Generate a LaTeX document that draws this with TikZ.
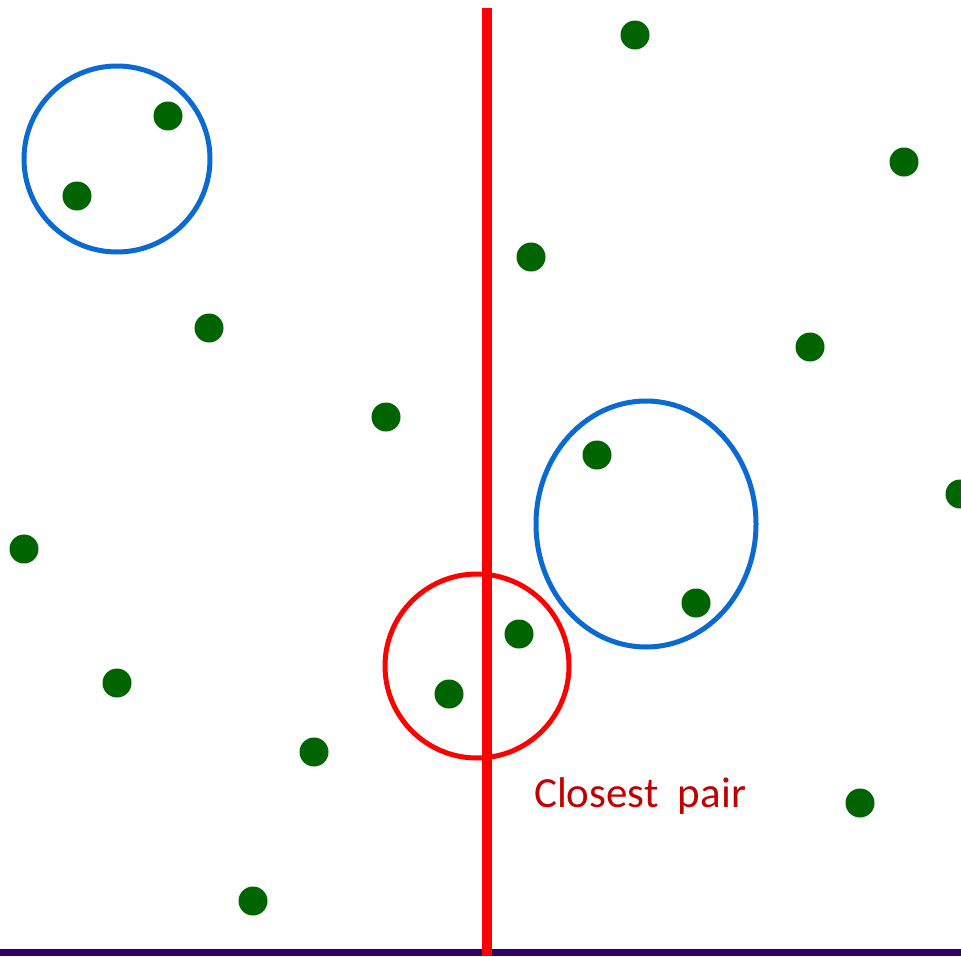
\documentclass[tikz,border=0pt]{standalone}
\usepackage{fontspec}
\setmainfont{Carlito}
\usepackage{tikz}
\usetikzlibrary{positioning}
\usepackage{xcolor}
\definecolor{dotgreen}{HTML}{006400}
\definecolor{ringblue}{HTML}{0A6AD2}
\definecolor{splitred}{HTML}{FF0000}
\definecolor{labelred}{HTML}{C00000}
\definecolor{baseviolet}{HTML}{330066}
\begin{document}
\begin{tikzpicture}[x=1pt, y=-1pt,
    point/.style={circle, fill=dotgreen, inner sep=0pt, minimum size=29pt},
    ring/.style={draw=ringblue, line width=5pt}]

        \useasboundingbox (0,0) rectangle (961,956);

        % Points, left half
        \node[point] (p1) at (168, 116) {};
        \node[point] (p2) at (77, 196) {};
        \node[point] (p3) at (209, 328) {};
        \node[point] (p4) at (386, 417) {};
        \node[point] (p5) at (24, 549) {};
        \node[point] (p6) at (117, 683) {};
        \node[point] (p7) at (449, 694) {};
        \node[point] (p8) at (314, 752) {};
        \node[point] (p9) at (253, 901) {};

        % Points, right half
        \node[point] (q1) at (635, 35) {};
        \node[point] (q2) at (904, 162) {};
        \node[point] (q3) at (531, 257) {};
        \node[point] (q4) at (810, 347) {};
        \node[point] (q5) at (597, 455) {};
        \node[point] (q6) at (960, 494) {};
        \node[point] (q7) at (696, 603) {};
        \node[point] (q8) at (519, 634) {};
        \node[point] (q9) at (860, 803) {};

        % Pairs found in each half
        \draw[ring] (117, 159) circle [radius=93];
        \draw[ring] (646, 524) ellipse [x radius=110, y radius=123];

        % Pair across the split
        \draw[draw=splitred, line width=5pt] (477, 666) circle [radius=92];
        \node[text=labelred, font=\fontsize{43}{48}\selectfont, anchor=west, inner sep=0pt]
            (lbl) at (534, 796) {Closest\ \ pair};

        % Base line and split line
        \coordinate (bl) at (0, 952.5);
        \coordinate (br) at (961, 952.5);
        \draw[baseviolet, line width=7pt] (bl) -- (br);
        \coordinate (top) at (487, 8);
        \coordinate (bot) at (487, 956);
        \draw[splitred, line width=10pt] (top) -- (bot);
    \end{tikzpicture}
\end{document}
